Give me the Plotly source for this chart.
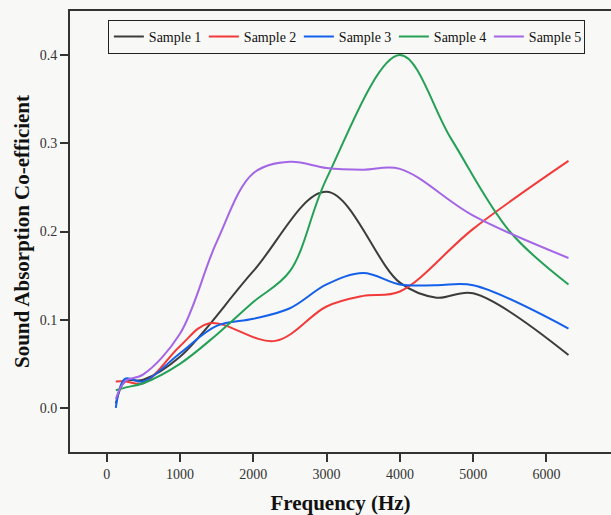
import plotly.graph_objects as go

freq1 = [125, 250, 500, 1000, 2000, 3000, 4000, 4500, 5000, 6300]
sample1 = [0.005, 0.03, 0.032, 0.058, 0.155, 0.245, 0.142, 0.125, 0.13, 0.06]

freq2 = [125, 250, 500, 1000, 1400, 2300, 3000, 3500, 4000, 5000, 6300]
sample2 = [0.03, 0.03, 0.028, 0.07, 0.096, 0.076, 0.115, 0.127, 0.132, 0.203, 0.28]

freq3 = [125, 250, 500, 1000, 1500, 2000, 2500, 3000, 3500, 4000, 4500, 5000, 6300]
sample3 = [0.0, 0.033, 0.03, 0.062, 0.093, 0.101, 0.113, 0.14, 0.153, 0.14, 0.139, 0.139, 0.09]

freq4 = [125, 250, 500, 1000, 1500, 2000, 2500, 3000, 4000, 4700, 5500, 6300]
sample4 = [0.02, 0.023, 0.028, 0.05, 0.083, 0.12, 0.155, 0.26, 0.40, 0.305, 0.2, 0.14]

freq5 = [125, 250, 500, 1000, 1500, 2000, 2500, 3000, 3500, 4000, 5000, 6300]
sample5 = [0.01, 0.03, 0.038, 0.084, 0.188, 0.266, 0.279, 0.272, 0.27, 0.271, 0.218, 0.17]

names = ["Sample 1", "Sample 2", "Sample 3", "Sample 4", "Sample 5"]
freqs = [freq1, freq2, freq3, freq4, freq5]
series = [sample1, sample2, sample3, sample4, sample5]
colors = ["#3c3c3c", "#f23a3a", "#1560eb", "#25a057", "#a466e6"]

xticks = [0, 1000, 2000, 3000, 4000, 5000, 6000]
yticks = [0.0, 0.1, 0.2, 0.3, 0.4]

fig = go.Figure()
for n, f, s, c in zip(names, freqs, series, colors):
    fig.add_trace(go.Scatter(x=f, y=s, name=n, mode="lines",
                             line=dict(color=c, width=2, shape="spline", smoothing=1.0)))

serif = "Liberation Serif, Times New Roman, serif"
bg = "#f8f8f6"
fig.update_layout(
    width=611, height=515,
    margin=dict(l=70, r=0, t=11, b=63),
    paper_bgcolor=bg, plot_bgcolor=bg,
    font=dict(family=serif, color="#222"),
    showlegend=True,
    legend=dict(orientation="h", x=0.070, y=0.98, xanchor="left", yanchor="top",
                bordercolor="#222", borderwidth=1, bgcolor=bg,
                font=dict(family=serif, size=14, color="#111"),
                itemwidth=30, entrywidth=50, tracegroupgap=0),
    xaxis=dict(range=[-500, 6880], tickvals=xticks, ticktext=[str(v) for v in xticks],
               showgrid=False, zeroline=False, showline=True, linewidth=2, linecolor="#333",
               mirror=True, ticks="outside", ticklen=8, tickwidth=2, tickcolor="#333",
               tickfont=dict(family=serif, size=14, color="#333"),
               title=dict(text="<b>Frequency (Hz)</b>", font=dict(family=serif, size=21, color="#111"),
                          standoff=15)),
    yaxis=dict(range=[-0.05, 0.45], tickvals=yticks, ticktext=["%.1f" % v for v in yticks],
               showgrid=False, zeroline=False, showline=True, linewidth=2, linecolor="#333",
               ticks="outside", ticklen=8, tickwidth=2, tickcolor="#333",
               tickfont=dict(family=serif, size=14, color="#333"),
               title=dict(text="<b>Sound Absorption Co-efficient</b>",
                          font=dict(family=serif, size=21, color="#111"), standoff=4)),
)

fig.write_html("out.html", config={"displayModeBar": False},
               post_script="document.body.style.margin='0';")
